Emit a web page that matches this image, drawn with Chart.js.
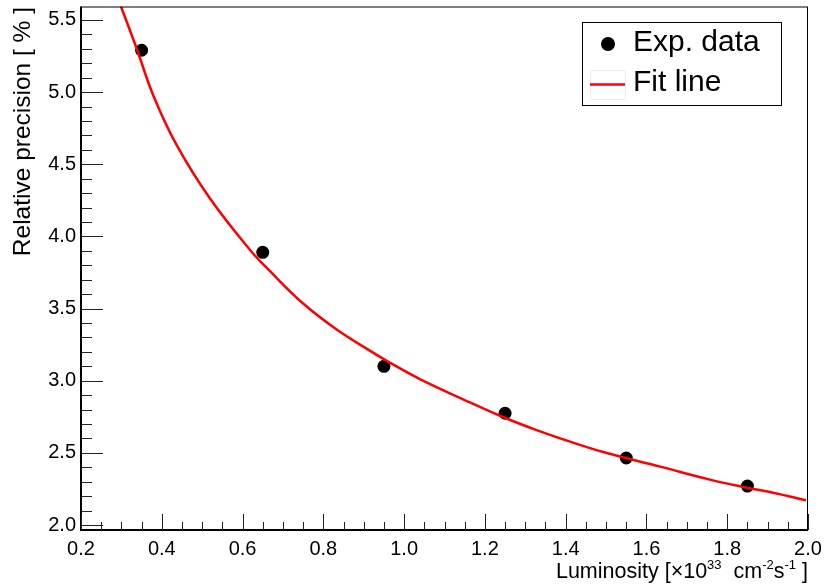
<!DOCTYPE html>
<html>
<head>
<meta charset="utf-8">
<title>Relative precision vs luminosity</title>
<script src="https://cdn.jsdelivr.net/npm/chart.js@4.4.1/dist/chart.umd.min.js"></script>
<style>
  html, body { margin: 0; padding: 0; background: #fff; }
  #wrap { width: 825px; height: 588px; }
</style>
</head>
<body>
<div id="wrap"><canvas id="c" width="825" height="588"></canvas></div>
<script>
  "use strict";

  /* ---- data ------------------------------------------------------------ */
  const expX = [0.35, 0.65, 0.95, 1.25, 1.55, 1.85];
  const expY = [5.29, 3.89, 3.10, 2.775, 2.465, 2.27];

  // fit curve, sampled by eye along the red line
  const fitX = [0.299, 0.338, 0.379, 0.437, 0.519, 0.618, 0.668, 0.750, 0.833, 0.916, 0.957, 1.039,
                1.163, 1.246, 1.328, 1.411, 1.493, 1.634, 1.757, 1.840, 1.922, 1.995];
  const fitY = [5.593, 5.30, 4.977, 4.632, 4.264, 3.908, 3.759, 3.535, 3.355, 3.207, 3.138, 3.012,
                2.850, 2.747, 2.658, 2.578, 2.506, 2.405, 2.315, 2.264, 2.219, 2.172];

  const xTicks = [0.2, 0.4, 0.6, 0.8, 1.0, 1.2, 1.4, 1.6, 1.8, 2.0];
  const yTicks = [2.0, 2.5, 3.0, 3.5, 4.0, 4.5, 5.0, 5.5];

  const FONT = "'Liberation Sans', Arial, Helvetica, sans-serif";
  const pts = (xs, ys) => xs.map((x, i) => ({ x, y: ys[i] }));

  /* no label overhang padding: the frame is placed by layout.padding alone */
  const noPad = (s) => { s.paddingTop = s.paddingBottom = s.paddingLeft = s.paddingRight = 0; };

  /* ROOT-style frame with ticks pointing into the pad */
  const framePlugin = {
    id: "frame",
    afterDraw(chart) {
      const { ctx, chartArea: a, scales } = chart;
      const xs = scales.x, ys = scales.y;
      ctx.save();
      ctx.strokeStyle = "#000";
      ctx.lineWidth = 1;
      ctx.strokeRect(a.left + 0.5, a.top + 0.5, a.right - a.left - 1, a.bottom - a.top - 1);
      ctx.lineWidth = 2;
      ctx.beginPath();
      ctx.moveTo(a.left, a.top); ctx.lineTo(a.left, a.bottom); ctx.lineTo(a.right, a.bottom);
      ctx.stroke();

      ctx.lineWidth = 1;
      ctx.strokeStyle = "#222";
      ctx.beginPath();
      // x: major every 0.2, minor every 0.05
      for (let i = 0; i <= 36; i++) {
        const v = 0.2 + i * 0.05;
        const px = Math.round(xs.getPixelForValue(v)) + 0.5;
        const len = i % 4 === 0 ? 16 : 8;
        ctx.moveTo(px, a.bottom); ctx.lineTo(px, a.bottom - len);
      }
      // y: major every 0.5, minor every 0.1
      for (let i = 0; i <= 36; i++) {
        const v = 2.0 + i * 0.1;
        if (v > ys.max) break;
        const py = Math.round(ys.getPixelForValue(v)) + 0.5;
        const len = i % 5 === 0 ? 22 : 11;
        ctx.moveTo(a.left, py); ctx.lineTo(a.left + len, py);
      }
      ctx.stroke();

      // axis titles
      ctx.fillStyle = "#000";
      ctx.textBaseline = "alphabetic";
      ctx.save();
      ctx.translate(30, 7);
      ctx.rotate(-Math.PI / 2);
      ctx.textAlign = "right";
      ctx.font = "24.5px " + FONT;
      ctx.fillText("Relative precision [ % ]", 0, 0);
      ctx.restore();

      const parts = [
        ["Luminosity [\u00d710", 0], ["33", 1], ["  cm", 0], ["-2", 1], ["s", 0], ["-1", 1], [" ]", 0],
      ];
      const big = "21.5px " + FONT, small = "13px " + FONT;
      let w = 0;
      parts.forEach(([t, sup]) => { ctx.font = sup ? small : big; w += ctx.measureText(t).width; });
      let x = a.right - w, base = 578;
      ctx.textAlign = "left";
      parts.forEach(([t, sup]) => {
        ctx.font = sup ? small : big;
        ctx.fillText(t, x, sup ? base - 9 : base);
        x += ctx.measureText(t).width;
      });

      // legend box
      const L = { x: 582, y: 22, w: 199, h: 83 };
      ctx.fillStyle = "#fff";
      ctx.fillRect(L.x, L.y, L.w, L.h);
      ctx.strokeStyle = "#000";
      ctx.lineWidth = 1;
      ctx.strokeRect(L.x + 0.5, L.y + 0.5, L.w, L.h);
      const dsP = chart.data.datasets[1], dsF = chart.data.datasets[0];
      ctx.fillStyle = dsP.pointBackgroundColor;
      ctx.beginPath(); ctx.arc(608, 44, 7, 0, Math.PI * 2); ctx.fill();
      ctx.strokeStyle = "#eee";
      ctx.strokeRect(590.5, 70.5, 35, 29);
      ctx.strokeStyle = dsF.borderColor;
      ctx.lineWidth = dsF.borderWidth;
      ctx.beginPath(); ctx.moveTo(590, 84.5); ctx.lineTo(625, 84.5); ctx.stroke();
      ctx.fillStyle = "#000";
      ctx.font = "30px " + FONT;
      ctx.textBaseline = "middle";
      ctx.fillText(dsP.label, 633, 43);
      ctx.fillText(dsF.label, 633, 83);
      ctx.restore();
    },
  };

  new Chart(document.getElementById("c"), {
    type: "scatter",
    data: {
      datasets: [
        {
          label: "Fit line",
          data: pts(fitX, fitY),
          showLine: true,
          borderColor: "#ff0000",
          borderWidth: 2.5,
          pointRadius: 0,
          tension: 0.4,
          order: 0,
        },
        {
          label: "Exp. data",
          data: pts(expX, expY),
          pointRadius: 6.5,
          pointBackgroundColor: "#000",
          pointBorderWidth: 0,
          order: 1,
        },
      ],
    },
    options: {
      responsive: false,
      animation: false,
      devicePixelRatio: 1,
      layout: { padding: { top: 4, right: 17, left: 0, bottom: 0 } },
      plugins: { legend: { display: false }, tooltip: { enabled: false } },
      scales: {
        x: {
          type: "linear",
          min: 0.2,
          max: 2.0,
          afterBuildTicks: (s) => { s.ticks = xTicks.map((v) => ({ value: v })); },
          afterFit: (s) => { s.height = 58; noPad(s); },
          grid: { display: false, drawTicks: false },
          border: { display: false },
          ticks: {
            padding: 7,
            color: "#000",
            font: { family: FONT, size: 20 },
            callback: (v) => Number(v).toFixed(1),
            maxRotation: 0,
            autoSkip: false,
          },
        },
        y: {
          type: "linear",
          min: 1.966,
          max: 5.593,
          afterBuildTicks: (s) => { s.ticks = yTicks.map((v) => ({ value: v })); },
          afterFit: (s) => { s.width = 81; noPad(s); },
          grid: { display: false, drawTicks: false },
          border: { display: false },
          ticks: {
            padding: 5,
            color: "#000",
            font: { family: FONT, size: 20 },
            callback: (v) => Number(v).toFixed(1),
            autoSkip: false,
          },
        },
      },
    },
    plugins: [framePlugin],
  });
</script>
</body>
</html>
